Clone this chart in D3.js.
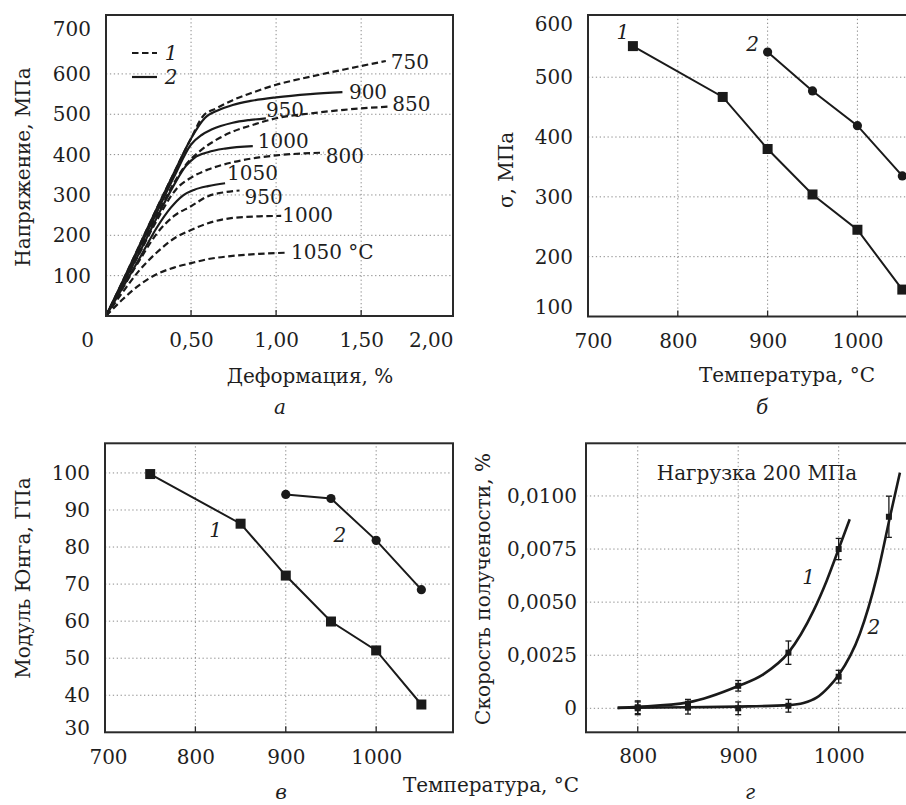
<!DOCTYPE html>
<html><head><meta charset="utf-8">
<script src="https://cdn.jsdelivr.net/npm/d3@7"></script>
<style>
body{margin:0;background:#fff}
svg{display:block}
text{font-family:"DejaVu Serif",serif;font-size:20px;fill:#1e1e1e}
</style>
</head><body>
<svg width="906" height="805"></svg>
<script>
// ---------- Panel а : stress-strain curves ----------
const stressTicks = [100, 200, 300, 400, 500, 600, 700];
const strainTicks = [0, 0.5, 1.0, 1.5, 2.0];
const strainTickLabels = ["0", "0,50", "1,00", "1,50", "2,00"];
// type 1 (dashed)
const curve1_750  = [[0,0],[0.1,88],[0.2,178],[0.3,268],[0.4,355],[0.5,440],[0.57,495],[0.65,515],[0.745,535],[0.85,552],[1.0,573],[1.2,593],[1.4,611],[1.645,632]];
const curve1_850  = [[0,0],[0.1,82],[0.2,165],[0.3,250],[0.4,330],[0.47,375],[0.55,408],[0.65,437],[0.745,457],[0.85,472],[1.0,490],[1.2,502],[1.4,511],[1.66,519]];
const curve1_800  = [[0,0],[0.1,78],[0.2,158],[0.3,238],[0.414,315],[0.5,343],[0.6,363],[0.745,381],[0.9,393],[1.0,398],[1.28,405]];
const curve1_950  = [[0,0],[0.1,70],[0.2,140],[0.3,205],[0.4,248],[0.5,272],[0.6,297],[0.7,307],[0.785,311]];
const curve1_1000 = [[0,0],[0.1,60],[0.2,115],[0.3,158],[0.4,192],[0.5,213],[0.6,230],[0.745,243],[0.9,247],[1.03,248]];
const curve1_1050 = [[0,0],[0.1,42],[0.2,78],[0.3,104],[0.4,120],[0.5,131],[0.6,141],[0.745,149],[0.9,154],[1.07,157]];
// type 2 (solid)
const curve2_900  = [[0,0],[0.1,88],[0.2,178],[0.3,268],[0.4,355],[0.5,440],[0.58,490],[0.66,510],[0.745,523],[0.85,533],[1.0,542],[1.2,550],[1.39,555]];
const curve2_950  = [[0,0],[0.1,85],[0.2,172],[0.3,258],[0.4,345],[0.5,425],[0.56,448],[0.62,462],[0.745,479],[0.85,486],[0.94,490]];
const curve2_1000 = [[0,0],[0.1,80],[0.2,160],[0.3,245],[0.4,325],[0.47,372],[0.52,392],[0.6,406],[0.7,415],[0.863,421]];
const curve2_1050 = [[0,0],[0.1,72],[0.2,145],[0.3,220],[0.38,268],[0.45,298],[0.52,313],[0.6,322],[0.7,329]];
const curveNames = ["750","850","800","950","1000","1050 °C","900","950","1000","1050"];
const curveTypes = [1,1,1,1,1,1,2,2,2,2];
const legendLabels = ["1","2"];

// ---------- Panel б : yield stress vs temperature ----------
const tempTicks = [700, 800, 900, 1000];
const sigmaTicks = [100, 200, 300, 400, 500, 600];
const temps1 = [750, 850, 900, 950, 1000, 1050];
const sigma1 = [552, 467, 380, 304, 245, 145];
const temps2 = [900, 950, 1000, 1050];
const sigma2 = [542, 477, 419, 335];

// ---------- Panel в : Young's modulus ----------
const youngTicks = [30, 40, 50, 60, 70, 80, 90, 100];
const young1 = [99.7, 86.3, 72.3, 59.9, 52.1, 37.5];
const young2 = [94.2, 93.1, 81.8, 68.5];

// ---------- Panel г : creep rate ----------
const creepTempTicks = [800, 900, 1000];
const creepTicks = [0, 0.0025, 0.005, 0.0075, 0.01];
const creepTemps1 = [800, 850, 900, 950, 1000];
const creepRate1  = [0.00005, 0.0002, 0.00106, 0.00262, 0.0075];
const creepErr1   = [0.0003, 0.00022, 0.00025, 0.00055, 0.0005];
const creepTemps2 = [800, 850, 900, 950, 1000, 1050];
const creepRate2  = [0.0, 0.00003, 0.0, 0.00012, 0.00149, 0.00902];
const creepErr2   = [0.0003, 0.0003, 0.0003, 0.0003, 0.0003, 0.00097];
const fitTemps1 = [780, 800, 850, 900, 925, 950, 975, 988, 1000, 1011];
const fitRate1  = [0.00002, 0.00007, 0.00028, 0.00105, 0.0016, 0.00262, 0.0046, 0.0060, 0.0075, 0.0089];
const fitTemps2 = [780, 800, 850, 900, 950, 965, 978, 990, 1000, 1021, 1038, 1051, 1061];
const fitRate2  = [0.00002, 0.00003, 0.00005, 0.00008, 0.00015, 0.00025, 0.0005, 0.0010, 0.00157, 0.0035, 0.0062, 0.009, 0.0111];

// ================= drawing =================
const svg = d3.select("svg");
const INK = "#1a1a1a";

function box(x0, y0, x1, y1) {
  svg.append("rect").attr("x", x0).attr("y", y0).attr("width", x1 - x0).attr("height", y1 - y0)
    .attr("fill", "none").attr("stroke", "#2a2a2a").attr("stroke-width", 2);
}
function grid(xs, ys, xv, yv) {
  const [x0, x1] = xs.range(), [y0, y1] = ys.range();
  const g = svg.append("g").attr("stroke", "#8a8a8a").attr("stroke-width", 1).attr("stroke-dasharray", "1.3,2.6");
  xv.forEach(v => g.append("line").attr("x1", xs(v)).attr("x2", xs(v)).attr("y1", y0).attr("y2", y1));
  yv.forEach(v => g.append("line").attr("y1", ys(v)).attr("y2", ys(v)).attr("x1", x0).attr("x2", x1));
  const t = svg.append("g").attr("stroke", "#2a2a2a").attr("stroke-width", 1.3);
  xv.forEach(v => t.append("line").attr("x1", xs(v)).attr("x2", xs(v)).attr("y1", y0).attr("y2", y0 - 6));
}
function styleAxis(g) {
  g.select(".domain").remove();
  g.selectAll("text").attr("font-family", null).attr("font-size", null);
  g.attr("font-family", null).attr("font-size", null);
}
function yTitle(x, y, txt) {
  svg.append("text").attr("transform", `translate(${x},${y}) rotate(-90)`)
    .attr("text-anchor", "middle").attr("dominant-baseline", "central").text(txt);
}
function label(x, y, txt, opts = {}) {
  return svg.append("text").attr("x", x).attr("y", y).attr("text-anchor", opts.anchor || "middle")
    .attr("dominant-baseline", opts.baseline || "central").attr("font-style", opts.italic ? "italic" : null).text(txt);
}

// ---------- Panel а ----------
{
  const x = d3.scaleLinear().domain([0, 2.04]).range([106, 453]);
  const y = d3.scaleLinear().domain([0, 746]).range([316, 15]);
  grid(x, y, [0.5, 1.0, 1.5], [100, 200, 300, 400, 500, 600]);

  const line = d3.line().x(d => x(d[0])).y(d => y(d[1])).curve(d3.curveMonotoneX);
  const curves = [curve1_750, curve1_850, curve1_800, curve1_950, curve1_1000, curve1_1050,
                  curve2_900, curve2_950, curve2_1000, curve2_1050];
  const labelOffsets = [[5,1.5],[4,-3],[2,3],[5,6.5],[1,-1],[3,-1],[6.5,0],[0,-8],[5,-5],[2,-10]];
  curves.forEach((c, i) => {
    svg.append("path").attr("d", line(c)).attr("fill", "none").attr("stroke", INK)
      .attr("stroke-width", 2.2).attr("stroke-dasharray", curveTypes[i] === 1 ? "6.5,3.5" : null);
    const last = c[c.length - 1];
    label(x(last[0]) + labelOffsets[i][0], y(last[1]) + labelOffsets[i][1], curveNames[i], {anchor: "start"});
  });
  box(106, 15, 453, 316);

  const ya = svg.append("g").attr("transform", "translate(106,0)")
    .call(d3.axisLeft(y).tickValues(stressTicks).tickSize(0).tickPadding(15).tickFormat(d3.format("d")));
  styleAxis(ya);
  ya.selectAll(".tick").filter(d => d === 700).select("text").attr("dy", "0.1em");

  const xa = svg.append("g").attr("transform", "translate(0,316)")
    .call(d3.axisBottom(x).tickValues(strainTicks).tickSize(0).tickPadding(17).tickFormat((d, i) => strainTickLabels[i]));
  styleAxis(xa);
  xa.selectAll(".tick").filter(d => d === 0).select("text").attr("x", -19);
  xa.selectAll(".tick").filter(d => d === 2).select("text").attr("text-anchor", "end").attr("x", 453 - x(2));

  // legend
  [1, 2].forEach((t, i) => {
    const ly = 53 + i * 24;
    svg.append("line").attr("x1", 132).attr("x2", 157).attr("y1", ly).attr("y2", ly)
      .attr("stroke", INK).attr("stroke-width", 2.2).attr("stroke-dasharray", t === 1 ? "6.5,3.5" : null);
    label(171, ly, legendLabels[i], {italic: true});
  });

  yTitle(23, 167, "Напряжение, МПа");
  label(310, 376, "Деформация, %");
  label(280, 414, "а", {italic: true, baseline: "auto"});
}

// ---------- Panel б ----------
{
  const x = d3.scaleLinear().domain([700, 1060]).range([588, 911.3]);
  const y = d3.scaleLinear().domain([100, 604]).range([316.5, 15]);
  grid(x, y, [800, 900, 1000], [200, 300, 400, 500]);
  const line = d3.line().x(d => x(d[0])).y(d => y(d[1]));
  const s1 = temps1.map((t, i) => [t, sigma1[i]]);
  const s2 = temps2.map((t, i) => [t, sigma2[i]]);
  svg.append("path").attr("d", line(s1)).attr("fill", "none").attr("stroke", INK).attr("stroke-width", 2);
  svg.append("path").attr("d", line(s2)).attr("fill", "none").attr("stroke", INK).attr("stroke-width", 2);
  svg.selectAll(null).data(s1).join("rect").attr("x", d => x(d[0]) - 5).attr("y", d => y(d[1]) - 5)
    .attr("width", 10).attr("height", 10).attr("fill", INK);
  svg.selectAll(null).data(s2).join("circle").attr("cx", d => x(d[0])).attr("cy", d => y(d[1]))
    .attr("r", 4.6).attr("fill", INK);
  box(588, 15, 920, 316.5);

  const ya = svg.append("g").attr("transform", "translate(588,0)")
    .call(d3.axisLeft(y).tickValues(sigmaTicks).tickSize(0).tickPadding(15).tickFormat(d3.format("d")));
  styleAxis(ya);
  ya.selectAll(".tick").filter(d => d === 100).select("text").attr("y", -9);
  ya.selectAll(".tick").filter(d => d === 600).select("text").attr("y", 7);
  const xa = svg.append("g").attr("transform", "translate(0,316.5)")
    .call(d3.axisBottom(x).tickValues(tempTicks).tickSize(0).tickPadding(17).tickFormat(d3.format("d")));
  styleAxis(xa);
  xa.selectAll(".tick").filter(d => d === 700).select("text").attr("x", 5);

  label(x(temps1[0]) - 10, y(sigma1[0]) - 14, "1", {italic: true});
  label(x(temps2[0]) - 15, y(sigma2[0]) - 8, "2", {italic: true});
  yTitle(506, 170, "σ, МПа");
  label(787, 375, "Температура, °C");
  label(762, 414, "б", {italic: true, baseline: "auto"});
}

// ---------- Panel в ----------
{
  const x = d3.scaleLinear().domain([700, 1085]).range([105, 453]);
  const y = d3.scaleLinear().domain([30, 108]).range([732.3, 443.3]);
  grid(x, y, [800, 900, 1000], [40, 50, 60, 70, 80, 90, 100]);
  const line = d3.line().x(d => x(d[0])).y(d => y(d[1]));
  const s1 = temps1.map((t, i) => [t, young1[i]]);
  const s2 = temps2.map((t, i) => [t, young2[i]]);
  svg.append("path").attr("d", line(s1)).attr("fill", "none").attr("stroke", INK).attr("stroke-width", 2);
  svg.append("path").attr("d", line(s2)).attr("fill", "none").attr("stroke", INK).attr("stroke-width", 2);
  svg.selectAll(null).data(s1).join("rect").attr("x", d => x(d[0]) - 5).attr("y", d => y(d[1]) - 5)
    .attr("width", 10).attr("height", 10).attr("fill", INK);
  svg.selectAll(null).data(s2).join("circle").attr("cx", d => x(d[0])).attr("cy", d => y(d[1]))
    .attr("r", 4.6).attr("fill", INK);
  box(105, 443.3, 453, 732.3);

  const ya = svg.append("g").attr("transform", "translate(105,0)")
    .call(d3.axisLeft(y).tickValues(youngTicks).tickSize(0).tickPadding(15).tickFormat(d3.format("d")));
  styleAxis(ya);
  ya.selectAll(".tick").filter(d => d === 30).select("text").attr("y", -4);
  const xa = svg.append("g").attr("transform", "translate(0,732.3)")
    .call(d3.axisBottom(x).tickValues(tempTicks).tickSize(0).tickPadding(18).tickFormat(d3.format("d")));
  styleAxis(xa);
  xa.selectAll(".tick").filter(d => d === 700).select("text").attr("x", 3);

  label(x(temps1[1]) - 25, y(young1[1]) + 6, "1", {italic: true});
  label(x(temps2[1]) + 9, y(young2[1]) + 36, "2", {italic: true});
  yTitle(23, 578, "Модуль Юнга, ГПа");
  label(281, 799, "в", {italic: true, baseline: "auto"});
  label(491, 785, "Температура, °C");
}

// ---------- Panel г ----------
{
  const x = d3.scaleLinear().domain([748.5, 1072]).range([586, 911]);
  const y = d3.scaleLinear().domain([-0.00113, 0.01248]).range([732.3, 443.3]);
  grid(x, y, creepTempTicks, creepTicks);
  const line = d3.line().x(d => x(d[0])).y(d => y(d[1])).curve(d3.curveMonotoneX);
  const f1 = fitTemps1.map((t, i) => [t, fitRate1[i]]);
  const f2 = fitTemps2.map((t, i) => [t, fitRate2[i]]);
  svg.append("path").attr("d", line(f2)).attr("fill", "none").attr("stroke", INK).attr("stroke-width", 2.6);
  svg.append("path").attr("d", line(f1)).attr("fill", "none").attr("stroke", INK).attr("stroke-width", 2.6);

  const pts = [
    ...creepTemps1.map((t, i) => ({t, v: creepRate1[i], e: creepErr1[i]})),
    ...creepTemps2.map((t, i) => ({t, v: creepRate2[i], e: creepErr2[i]}))
  ];
  const eg = svg.append("g").attr("stroke", INK).attr("stroke-width", 1.3);
  pts.forEach(p => {
    const cx = x(p.t), top = y(p.v + p.e), bot = y(p.v - p.e);
    eg.append("line").attr("x1", cx).attr("x2", cx).attr("y1", top).attr("y2", bot);
    eg.append("line").attr("x1", cx - 3).attr("x2", cx + 3).attr("y1", top).attr("y2", top);
    eg.append("line").attr("x1", cx - 3).attr("x2", cx + 3).attr("y1", bot).attr("y2", bot);
  });
  svg.selectAll(null).data(pts).join("rect").attr("x", d => x(d.t) - 3).attr("y", d => y(d.v) - 3)
    .attr("width", 6).attr("height", 6).attr("fill", INK);
  box(586, 443.3, 920, 732.3);

  const fmt = d => d === 0 ? "0" : d.toFixed(4).replace(".", ",");
  const ya = svg.append("g").attr("transform", "translate(586,0)")
    .call(d3.axisLeft(y).tickValues(creepTicks).tickSize(0).tickPadding(9).tickFormat(fmt));
  styleAxis(ya);
  const xa = svg.append("g").attr("transform", "translate(0,732.3)")
    .call(d3.axisBottom(x).tickValues(creepTempTicks).tickSize(0).tickPadding(17).tickFormat(d3.format("d")));
  styleAxis(xa);

  label(757, 473, "Нагрузка 200 МПа");
  label(x(fitTemps1[7]) - 18, y(fitRate1[7]) - 4, "1", {italic: true});
  label(x(fitTemps2[9]) + 14, y(fitRate2[9]) - 7, "2", {italic: true});
  yTitle(483, 589, "Скорость получености, %");
  label(750, 799, "г", {italic: true, baseline: "auto"});
}
</script>
</body></html>
